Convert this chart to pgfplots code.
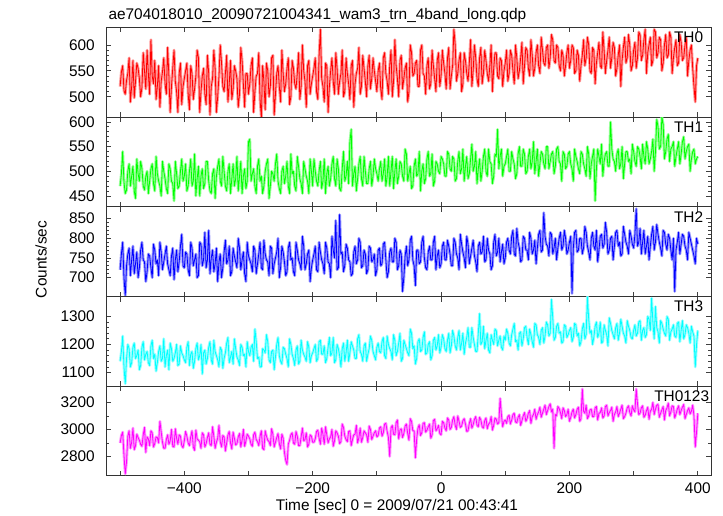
\documentclass[border=0pt]{standalone}
\usepackage{fontspec}
\setmainfont{Liberation Sans}
\usepackage{pgfplots}
\usepackage{pgfplotstable}
\pgfplotsset{compat=1.18}
\definecolor{cR}{rgb}{1,0,0}
\definecolor{cG}{rgb}{0,1,0}
\definecolor{cB}{rgb}{0,0,1}
\definecolor{cC}{rgb}{0,1,1}
\definecolor{cM}{rgb}{1,0,1}
\newcommand{\lf}{\fontsize{15.4}{18}\selectfont}
\pgfplotstableread{
t a b c d e
-500 520 470 720 1140 2900
-498 548 495 760 1175 2955
-496 560 540 790 1230 2980
-494 512 478 700 1120 2810
-492 505 455 655 1060 2670
-490 532 462 730 1150 2760
-488 545 500 760 1200 2950
-486 575 515 775 1185 2990
-484 490 470 705 1120 2860
-482 520 490 745 1135 2905
-480 570 510 780 1190 3010
-478 498 460 710 1205 2850
-476 530 445 735 1150 2880
-474 565 525 765 1160 2965
-472 555 495 700 1180 2940
-470 535 480 725 1110 2920
-468 500 520 770 1125 2890
-466 518 505 790 1190 2875
-464 585 470 745 1210 2960
-462 550 462 740 1145 3015
-460 515 490 690 1165 2830
-458 590 500 715 1175 2945
-456 545 455 760 1135 2930
-454 505 480 755 1125 2880
-452 610 505 725 1195 2990
-450 540 515 700 1215 2975
-448 525 475 785 1150 2870
-446 570 460 770 1165 2895
-444 495 530 735 1105 2945
-442 520 495 745 1135 2940
-440 560 480 705 1175 2900
-438 480 470 790 1195 3060
-436 530 450 765 1140 2980
-434 548 520 720 1150 2905
-432 575 500 740 1220 2860
-430 525 485 760 1120 2860
-428 505 465 780 1160 2925
-426 595 455 735 1180 2960
-424 540 515 720 1110 2890
-422 470 505 705 1205 2915
-420 520 480 755 1185 3000
-418 555 475 775 1140 2875
-416 590 440 695 1150 2870
-414 530 520 745 1170 3005
-412 510 495 770 1200 2935
-410 470 465 715 1125 2890
-408 545 470 740 1130 2960
-406 565 500 780 1195 2950
-404 485 525 810 1170 2880
-402 520 480 730 1160 2865
-400 535 490 725 1145 2915
-398 550 515 765 1135 2985
-396 565 460 760 1190 2950
-394 505 470 720 1210 2900
-392 475 500 705 1125 2880
-390 560 525 790 1165 2945
-388 545 470 775 1175 2990
-386 495 480 730 1115 2870
-384 515 535 745 1140 2845
-382 540 450 760 1185 2995
-380 590 485 700 1205 2930
-378 575 510 705 1145 2920
-376 470 450 790 1160 2910
-374 510 490 785 1200 2860
-372 540 505 730 1095 2975
-370 555 465 745 1170 2960
-368 505 475 815 1180 2870
-366 485 520 725 1130 2895
-364 580 520 745 1150 2940
-362 545 480 820 1190 2975
-360 465 460 710 1210 2890
-358 520 455 750 1145 2880
-356 535 495 770 1130 3020
-354 590 505 715 1215 2950
-352 555 445 735 1175 2860
-350 470 490 775 1160 2905
-348 500 510 690 1145 2935
-346 540 525 740 1120 3030
-344 600 480 760 1190 2910
-342 565 470 700 1180 2870
-340 520 530 725 1115 2955
-338 510 500 765 1150 2945
-336 545 470 795 1170 2840
-334 580 460 735 1205 2900
-332 490 500 745 1225 2960
-330 525 515 780 1135 2985
-328 570 455 705 1155 2900
-326 495 485 715 1175 2855
-324 515 515 775 1130 2980
-322 560 470 755 1220 2935
-320 550 485 740 1185 2885
-318 535 530 725 1155 2895
-316 480 460 800 1145 2945
-314 505 490 775 1125 2970
-312 595 520 720 1200 2870
-310 570 455 745 1190 2920
-308 525 490 765 1160 3000
-306 480 505 710 1165 2875
-304 545 465 690 1120 2915
-302 545 480 790 1210 2965
-300 505 560 755 1175 2950
-298 525 565 745 1160 2930
-296 560 480 735 1190 2890
-294 575 495 715 1200 2875
-292 470 505 780 1140 2960
-290 510 470 770 1255 2980
-288 540 455 710 1210 2925
-286 545 510 735 1150 2910
-284 585 525 760 1155 2880
-282 495 480 790 1120 2950
-280 460 490 725 1120 2990
-278 560 455 720 1185 2860
-276 530 470 795 1180 2850
-274 475 500 760 1170 2990
-272 565 515 745 1235 2950
-270 550 525 740 1210 2920
-268 500 445 705 1145 2910
-266 520 470 780 1135 2880
-264 575 500 775 1175 3005
-262 580 495 710 1180 2965
-260 465 480 735 1110 2870
-258 505 515 750 1155 2905
-256 545 535 765 1200 2940
-254 560 480 800 1225 2970
-252 520 465 700 1160 2895
-250 490 455 725 1140 2855
-248 590 500 780 1130 2965
-246 545 510 765 1190 2935
-244 510 475 740 1185 2830
-242 525 490 705 1165 2770
-240 555 520 715 1150 2740
-238 575 470 775 1120 2890
-236 485 455 790 1220 2920
-234 500 535 745 1200 2960
-232 570 495 750 1165 2975
-230 555 500 715 1150 2900
-228 525 470 705 1125 2890
-226 515 460 790 1180 2985
-224 545 530 770 1195 2950
-222 585 510 745 1130 2880
-220 495 485 735 1140 2880
-218 520 475 720 1215 2945
-216 600 455 805 1180 3010
-214 550 520 780 1165 2915
-212 530 505 720 1155 2925
-210 480 490 735 1140 2975
-208 560 480 760 1210 2870
-206 570 455 770 1190 2890
-204 505 525 690 1135 2960
-202 525 500 725 1160 2950
-200 540 470 745 1170 2905
-198 555 525 760 1185 2905
-196 575 500 780 1200 2930
-194 510 480 720 1140 2985
-192 495 470 715 1150 2995
-190 580 500 790 1210 2935
-188 630 520 765 1215 2890
-186 535 465 745 1165 3010
-184 520 480 735 1165 2965
-182 490 525 710 1195 2890
-180 565 455 790 1135 3020
-178 560 495 775 1150 2960
-176 470 510 740 1190 2900
-174 520 470 735 1225 2930
-172 550 485 700 1160 2945
-170 575 515 805 1170 3000
-168 530 530 770 1225 2875
-166 505 485 750 1135 2915
-164 585 470 845 1145 2990
-162 555 525 720 1200 2975
-160 505 505 725 1185 2950
-158 530 465 860 1160 2895
-156 545 460 760 1120 2910
-154 590 505 765 1185 3040
-152 500 540 715 1205 3015
-150 510 480 730 1140 2950
-148 575 490 785 1170 2925
-146 545 520 775 1215 2910
-144 525 475 745 1140 2985
-142 495 560 740 1170 2990
-140 560 585 705 1210 2880
-138 570 470 710 1195 2925
-136 480 495 765 1180 2960
-134 525 510 780 1150 2965
-132 545 460 735 1150 3030
-130 555 485 745 1220 2900
-128 595 515 800 1235 2940
-126 505 530 790 1175 3010
-124 520 485 725 1165 2905
-122 580 470 730 1140 2940
-120 555 530 770 1195 2990
-118 530 500 760 1205 2975
-116 500 475 710 1140 2960
-114 560 475 720 1165 2905
-112 580 505 780 1185 3025
-110 515 520 775 1230 3000
-108 535 470 740 1215 2925
-106 575 490 745 1175 2950
-104 550 525 760 1160 2975
-102 530 505 705 1145 2990
-100 510 495 720 1190 2945
-98 550 480 770 1205 2955
-96 565 505 775 1175 3010
-94 515 520 730 1170 3020
-92 495 480 735 1210 2950
-90 575 495 785 1225 2975
-88 585 525 790 1160 3040
-86 545 470 745 1150 3045
-84 530 490 700 1230 2985
-82 505 530 715 1200 2940
-80 560 470 765 1185 2800
-78 590 500 775 1175 3010
-76 500 530 740 1145 3030
-74 530 465 740 1235 2965
-72 610 500 800 1215 2960
-70 560 525 790 1160 3050
-68 535 475 720 1175 3070
-66 500 490 730 1205 2930
-64 570 520 770 1240 2995
-62 580 515 760 1140 3005
-60 515 490 665 1150 2940
-58 535 480 700 1215 2970
-56 555 545 755 1200 3025
-54 565 535 780 1185 3040
-52 490 480 730 1170 2970
-50 510 495 745 1160 2920
-48 600 510 795 1255 3080
-46 585 465 805 1240 3060
-44 540 470 745 1185 2990
-42 545 510 730 1195 2990
-40 565 525 680 1130 2790
-38 570 490 770 1150 2930
-36 520 495 770 1210 3010
-34 520 540 735 1220 3035
-32 590 460 740 1175 2955
-30 600 500 790 1180 2975
-28 545 515 805 1225 3045
-26 540 475 750 1245 3050
-24 505 485 725 1165 2980
-22 560 525 720 1170 2995
-20 575 540 765 1200 3020
-18 515 490 780 1210 3040
-16 525 495 745 1145 2935
-14 590 535 745 1160 2960
-12 560 470 790 1215 3065
-10 535 480 805 1225 3075
-8 510 520 720 1180 2990
-6 570 515 755 1195 3005
-4 585 500 770 1235 3030
-2 520 495 725 1170 2970
0 540 530 735 1190 2960
2 590 525 780 1235 3060
4 565 515 790 1220 3050
6 545 490 745 1185 3010
8 515 490 745 1175 2990
10 575 540 795 1215 3085
12 595 535 780 1240 3070
14 515 505 760 1170 3000
16 540 500 730 1195 3015
18 560 530 730 1250 3070
20 630 525 800 1230 3095
22 600 480 790 1195 3030
24 530 485 760 1180 3000
26 545 520 750 1225 3100
28 570 540 720 1250 3060
30 585 495 810 1180 3015
32 510 505 785 1205 3025
34 525 545 765 1240 3065
36 585 480 750 1165 3080
38 570 510 725 1205 3040
40 545 530 805 1225 2985
42 530 485 785 1260 2990
44 565 495 735 1190 3045
46 610 525 755 1190 3080
48 520 555 775 1260 3010
50 550 500 795 1225 3035
52 600 510 755 1200 3075
54 575 540 740 1175 3095
56 535 475 715 1175 3030
58 520 505 780 1240 3020
60 575 525 790 1310 3090
62 595 480 760 1200 3070
64 525 500 765 1210 3020
66 545 530 805 1265 3010
68 590 545 740 1185 3065
70 570 500 745 1215 3085
72 545 490 800 1240 3005
74 530 545 770 1180 3040
76 560 520 760 1170 3050
78 600 515 720 1235 3095
80 510 475 730 1215 2995
82 555 490 790 1200 3030
84 585 535 810 1255 3085
86 585 530 755 1250 3075
88 540 585 765 1195 3040
90 535 505 800 1215 3050
92 575 530 740 1230 3230
94 570 545 765 1190 3110
96 520 490 785 1180 3020
98 550 510 735 1230 3060
100 565 515 750 1215 3070
102 590 530 790 1255 3045
104 530 545 800 1240 3095
106 545 500 770 1205 3105
108 590 500 760 1195 3040
110 580 540 805 1235 3070
112 550 525 820 1255 3110
114 525 515 760 1275 3120
116 600 485 755 1210 3055
118 575 495 825 1215 3050
120 535 535 790 1180 3090
122 550 550 775 1240 3110
124 575 510 740 1245 3030
126 605 510 745 1195 3065
128 525 545 805 1220 3100
130 560 535 800 1260 3125
132 595 495 770 1265 3060
134 590 500 770 1225 3080
136 555 530 745 1200 3120
138 540 545 815 1255 3140
140 610 505 800 1235 3045
142 580 520 760 1210 3095
144 540 560 770 1190 3110
146 555 495 795 1275 3150
148 585 520 735 1270 3075
150 600 545 775 1235 3110
152 560 490 810 1225 3130
154 545 515 820 1200 3165
156 615 540 765 1250 3090
158 590 535 770 1260 3120
160 565 515 865 1205 3150
162 560 505 805 1230 3180
164 595 550 785 1280 3110
166 600 550 780 1270 3140
168 555 505 755 1230 3170
170 575 520 815 1240 3190
172 620 535 810 1360 3130
174 610 540 760 1295 3150
176 570 495 775 1215 2860
178 565 510 800 1225 3110
180 600 545 745 1265 3100
182 595 550 775 1275 3170
184 560 520 800 1240 3155
186 550 515 815 1245 3125
188 590 480 770 1205 3080
190 580 540 780 1210 3160
192 540 535 820 1270 3140
194 560 505 800 1265 3095
196 585 510 760 1225 3110
198 600 535 770 1235 3150
200 555 540 790 1250 3060
202 570 515 805 1260 3090
204 600 505 660 1210 3130
206 595 480 775 1225 3150
208 545 545 815 1275 3085
210 550 530 820 1270 3110
212 590 520 765 1230 3150
214 580 505 770 1240 3165
216 530 495 800 1195 3060
218 560 540 800 1210 3080
220 580 535 760 1255 3300
222 610 515 775 1275 3135
224 560 505 830 1220 3120
226 575 490 815 1235 3180
228 615 550 780 1370 3080
230 600 535 765 1290 3100
232 550 485 745 1240 3145
234 545 515 800 1250 3150
236 595 530 815 1200 3095
238 590 545 780 1225 3095
240 525 440 770 1265 3160
242 565 505 820 1280 3170
244 585 545 740 1225 3070
246 605 530 770 1240 3120
248 560 515 805 1280 3125
250 555 555 810 1205 3160
252 625 490 775 1210 3085
254 590 520 785 1270 3100
256 545 535 840 1250 3170
258 570 540 815 1235 3180
260 590 510 760 1195 3100
262 615 510 770 1295 3125
264 555 600 800 1275 3140
266 575 545 805 1250 3165
268 605 525 745 1235 3060
270 595 520 780 1220 3110
272 540 500 815 1260 3130
274 555 535 820 1275 3170
276 580 545 780 1215 3095
278 600 505 790 1240 3120
280 520 515 755 1290 3150
282 570 550 760 1265 3180
284 595 485 830 1240 3080
286 615 515 810 1230 3095
288 565 540 790 1205 3120
290 575 540 780 1285 3160
292 620 520 760 1265 3175
294 600 525 820 1250 3125
296 550 495 805 1225 3100
298 560 555 785 1220 3175
300 590 540 775 1250 3145
302 605 520 810 1270 3130
304 555 510 875 1230 3300
306 575 550 780 1240 3190
308 625 545 790 1280 3110
310 620 530 825 1285 3120
312 570 505 760 1215 3160
314 580 555 790 1250 3175
316 610 530 820 1260 3090
318 630 515 760 1225 3105
320 545 560 780 1235 3140
322 585 545 805 1300 3165
324 600 515 745 1290 3075
326 615 525 780 1250 3135
328 560 540 810 1365 3150
330 570 565 830 1280 3200
332 630 500 770 1220 3110
334 625 540 790 1335 3150
336 575 605 835 1260 3180
338 585 590 810 1245 3185
340 615 545 790 1205 3090
342 610 550 775 1285 3120
344 550 610 755 1275 3145
346 565 595 820 1255 3170
348 600 525 815 1240 3070
350 620 540 785 1230 3140
352 575 565 770 1300 3160
354 580 575 810 1290 3195
356 625 520 800 1215 3100
358 615 545 770 1245 3130
360 545 550 745 1255 3175
362 575 560 800 1270 3170
364 595 510 665 1230 3085
366 610 530 770 1225 3115
368 560 545 790 1275 3150
370 565 560 815 1280 3175
372 620 515 760 1210 3110
374 605 535 785 1250 3140
376 570 560 810 1285 3165
378 575 570 805 1220 3185
380 600 525 780 1235 3080
382 615 540 770 1270 3110
384 540 550 745 1260 3140
386 570 555 815 1240 3160
388 590 500 800 1205 3115
390 600 525 785 1265 3135
392 555 540 770 1245 3180
394 520 545 755 1230 3100
396 490 515 735 1120 2870
398 560 525 800 1200 2980
400 575 530 785 1250 3120
}\lc
\pgfplotsset{
  panel/.style={
    scale only axis, width=605.3pt, height=89.74pt,
    xmin=-522, xmax=421,
    axis line style={line width=1pt, draw=black!80},
    tick align=inside, major tick length=5pt, minor tick length=3pt,
    every tick/.style={draw=black!75, line width=0.8pt},
    xtick={-500,-400,...,400}, xticklabels={},
    tick label style={font=\lf},
    yticklabel style={inner sep=0pt, xshift=-11pt},
    /pgf/number format/.cd, 1000 sep={}, assume math mode=true,
  },
  halo/.style={line width=2.8pt, line join=round, forget plot},
  core/.style={line width=0.8pt, line join=round},
}
\begin{document}
\begin{tikzpicture}[x=1pt,y=1pt]
% TH0
\begin{axis}[panel, at={(106pt,398.96pt)}, anchor=south west,
  ymin=461, ymax=634, ytick={500,550,600}, minor y tick num=4]
\addplot[color=cR!40!white, halo] table[x=t,y=a]{\lc};
\addplot[color=cR, core] table[x=t,y=a]{\lc};
\node[anchor=north east, inner sep=0pt, font=\lf] at (rel axis cs:1,1) [xshift=-8pt, yshift=-4.4pt] {TH0};
\end{axis}
% TH1
\begin{axis}[panel, at={(106pt,309.22pt)}, anchor=south west,
  ymin=428, ymax=610, ytick={450,500,550,600}, minor y tick num=4]
\addplot[color=cG!40!white, halo] table[x=t,y=b]{\lc};
\addplot[color=cG, core] table[x=t,y=b]{\lc};
\node[anchor=north east, inner sep=0pt, font=\lf] at (rel axis cs:1,1) [xshift=-8pt, yshift=-4.4pt] {TH1};
\end{axis}
% TH2
\begin{axis}[panel, at={(106pt,219.48pt)}, anchor=south west,
  ymin=652, ymax=880, ytick={700,750,800,850}, minor y tick num=4]
\addplot[color=cB!40!white, halo] table[x=t,y=c]{\lc};
\addplot[color=cB, core] table[x=t,y=c]{\lc};
\node[anchor=north east, inner sep=0pt, font=\lf] at (rel axis cs:1,1) [xshift=-8pt, yshift=-4.4pt] {TH2};
\end{axis}
% TH3
\begin{axis}[panel, at={(106pt,129.74pt)}, anchor=south west,
  ymin=1051, ymax=1371, ytick={1100,1200,1300}, minor y tick num=4]
\addplot[color=cC!40!white, halo] table[x=t,y=d]{\lc};
\addplot[color=cC, core] table[x=t,y=d]{\lc};
\node[anchor=north east, inner sep=0pt, font=\lf] at (rel axis cs:1,1) [xshift=-8pt, yshift=-4.4pt] {TH3};
\end{axis}
% TH0123
\begin{axis}[panel, at={(106pt,40pt)}, anchor=south west,
  ymin=2655, ymax=3320, ytick={2800,3000,3200}, minor y tick num=1,
  xticklabels={,−400,,−200,,0,,200,,400},
  xticklabel style={inner sep=0pt, yshift=-7pt}]
\addplot[color=cM!40!white, halo] table[x=t,y=e]{\lc};
\addplot[color=cM, core] table[x=t,y=e]{\lc};
\node[anchor=north east, inner sep=0pt, font=\lf] at (rel axis cs:1,1) [xshift=-2pt, yshift=-4.4pt] {TH0123};
\end{axis}
\node[anchor=base west, inner sep=0pt, font=\lf] at (108.3pt,496pt) {ae704018010\_20090721004341\_wam3\_trn\_4band\_long.qdp};
\node[rotate=90, inner sep=0pt, font=\lf] at (41pt,256.5pt) {Counts/sec};
\node[anchor=base, inner sep=0pt, font=\lf] at (397pt,5.3pt) {Time [sec] 0 = 2009/07/21 00:43:41};
\pgfresetboundingbox
\path[use as bounding box] (0,0) rectangle (723pt,516pt);
\end{tikzpicture}
\end{document}
